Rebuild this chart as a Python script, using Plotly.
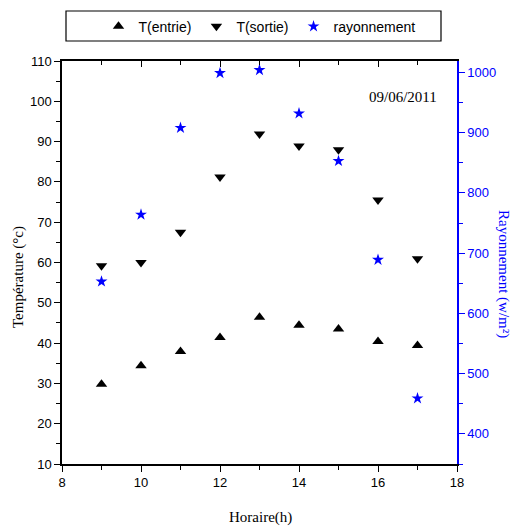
import plotly.graph_objects as go

hours = [9, 10, 11, 12, 13, 14, 15, 16, 17]
t_entrie = [29.8, 34.4, 37.9, 41.4, 46.4, 44.4, 43.5, 40.4, 39.4]
t_sortie = [59.2, 60.0, 67.5, 81.2, 91.9, 88.9, 88.0, 75.5, 60.9]
rayonnement = [653, 764, 908, 999, 1004, 932, 853, 689, 459]

fig = go.Figure()
fig.add_trace(go.Scatter(x=hours, y=t_entrie, mode="markers", name="T(entrie)",
                         marker=dict(symbol="triangle-up", size=10, color="black")))
fig.add_trace(go.Scatter(x=hours, y=t_sortie, mode="markers", name="T(sortie)",
                         marker=dict(symbol="triangle-down", size=10, color="black")))
fig.add_trace(go.Scatter(x=hours, y=rayonnement, mode="markers", name="rayonnement",
                         marker=dict(symbol="star", size=9, color="blue"), yaxis="y2"))

serif = "Liberation Serif, Times New Roman"
tickfont = dict(family="Liberation Sans, Arial", size=13, color="black")
fig.update_layout(
    width=513, height=529,
    margin=dict(l=62, r=56, t=61, b=65, autoexpand=False),
    plot_bgcolor="white", paper_bgcolor="white",
    showlegend=True,
    legend=dict(orientation="h", x=0.5, xanchor="center", y=1.085, yanchor="middle",
                font=dict(family="Liberation Sans, Arial", size=14, color="black"),
                bgcolor="rgba(0,0,0,0)", itemwidth=30),
    xaxis=dict(range=[8, 18], dtick=2, showgrid=False, zeroline=False, automargin=False,
               showline=True, linecolor="black", linewidth=1.5,
               ticks="outside", ticklen=6, tickwidth=1.2, tickcolor="black",
               minor=dict(dtick=1, ticks="outside", ticklen=4, tickcolor="black", tickwidth=1),
               tickfont=tickfont),
    xaxis2=dict(range=[8, 18], dtick=2, overlaying="x", side="top", showgrid=False, zeroline=False, automargin=False,
                showline=True, linecolor="black", linewidth=1.5,
                ticks="inside", ticklen=6, tickwidth=1.2, tickcolor="black",
                minor=dict(dtick=1, ticks="inside", ticklen=4, tickcolor="black", tickwidth=1),
                showticklabels=False),
    yaxis=dict(range=[10, 110], dtick=10, showgrid=False, zeroline=False, automargin=False,
               showline=True, linecolor="black", linewidth=1.5,
               ticks="outside", ticklen=6, tickwidth=1.2, tickcolor="black",
               minor=dict(dtick=5, ticks="outside", ticklen=4, tickcolor="black", tickwidth=1),
               tickfont=tickfont),
    yaxis2=dict(range=[350, 1019], dtick=100, overlaying="y", side="right", showgrid=False, zeroline=False, automargin=False,
                showline=True, linecolor="blue", linewidth=1.5,
                ticks="outside", ticklen=6, tickwidth=1.2, tickcolor="blue",
                minor=dict(dtick=50, ticks="outside", ticklen=4, tickcolor="blue", tickwidth=1),
                tickfont=dict(family="Liberation Sans, Arial", size=13, color="blue")),
    shapes=[dict(type="rect", xref="paper", yref="paper",
                 x0=(66 - 62) / 395, x1=(441 - 62) / 395,
                 y0=(464 - 41) / 403, y1=(464 - 11) / 403,
                 line=dict(color="black", width=1.2), fillcolor="rgba(0,0,0,0)")],
    annotations=[
        dict(text="09/06/2011", xref="paper", yref="paper", x=(403 - 62) / 395, y=(464 - 97) / 403,
             xanchor="center", yanchor="middle",
             showarrow=False, font=dict(family=serif, size=15, color="black")),
        dict(text="Horaire(h)", xref="paper", yref="paper", x=(260 - 62) / 395, y=(464 - 517) / 403,
             xanchor="center", yanchor="middle",
             showarrow=False, font=dict(family=serif, size=15, color="black")),
        dict(text="Température (°c)", xref="paper", yref="paper", x=(18 - 62) / 395, y=(464 - 277) / 403,
             xanchor="center", yanchor="middle",
             showarrow=False, textangle=-90,
             font=dict(family=serif, size=15, color="black")),
        dict(text="Rayonnement (w/m²)", xref="paper", yref="paper", x=(504 - 62) / 395, y=(464 - 274) / 403,
             xanchor="center", yanchor="middle",
             showarrow=False, textangle=90,
             font=dict(family=serif, size=15, color="blue")),
    ],
)
# invisible trace to activate the top axis
fig.add_trace(go.Scatter(x=[8], y=[10], xaxis="x2", mode="markers", marker=dict(opacity=0),
                         showlegend=False, hoverinfo="skip"))

fig.write_html("out.html")
